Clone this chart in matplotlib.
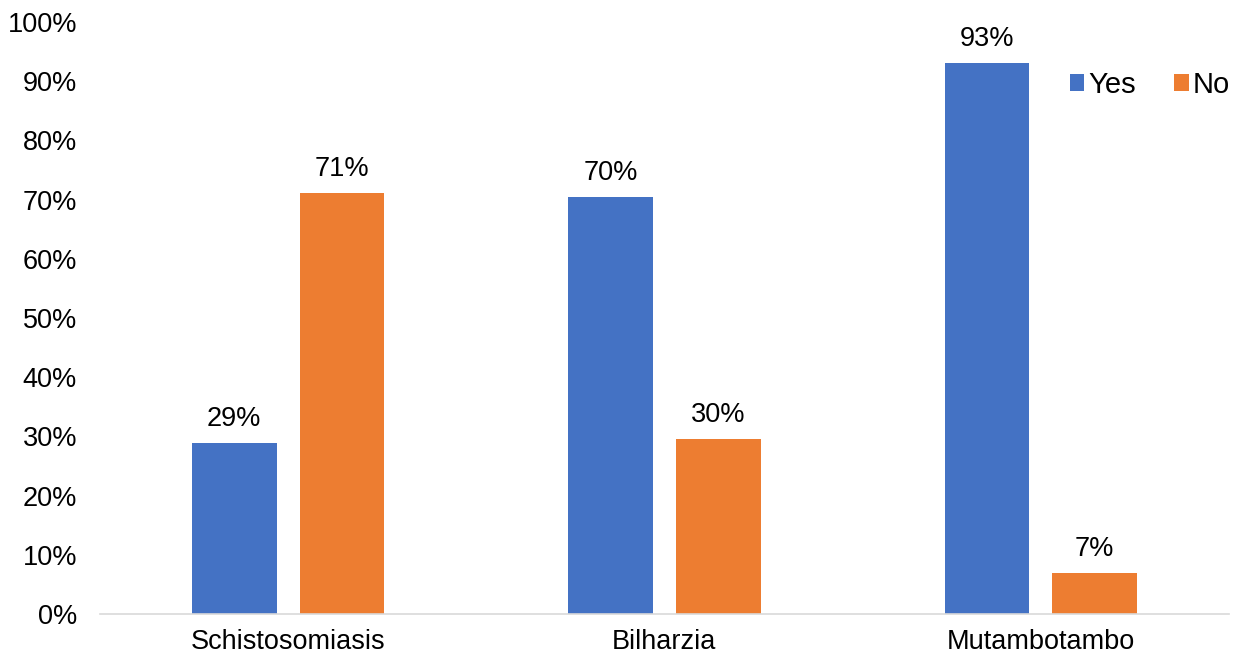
import numpy as np
import matplotlib.pyplot as plt

plt.rcParams['font.family'] = ['Liberation Sans', 'DejaVu Sans']

categories = ["Schistosomiasis", "Bilharzia", "Mutambotambo"]
yes_vals = [0.289, 0.704, 0.931]
no_vals = [0.711, 0.296, 0.069]
yticks = np.arange(0, 1.01, 0.1)

x = np.arange(len(categories))
width = 0.225
offset = 0.143
fs = 19.5

fig = plt.figure(figsize=(12.4, 6.61), dpi=100)
ax = fig.add_axes([0.0806, 0.0711, 0.9104, 0.8956])

rects1 = ax.bar(x - offset, yes_vals, width, color="#4472C4", label="Yes")
rects2 = ax.bar(x + offset, no_vals, width, color="#ED7D31", label="No")

ax.set_xlim(-0.5, 2.5)
ax.set_ylim(0, 1)
ax.set_yticks(yticks)
ax.set_yticklabels(["{:.0f}%".format(v * 100) for v in yticks], fontsize=fs)
ax.set_xticks(x)
ax.set_xticklabels(categories, fontsize=fs)
ax.tick_params(axis="both", length=0)
ax.tick_params(axis="x", pad=11)
ax.tick_params(axis="y", pad=16.5)

for side in ["top", "right", "left"]:
    ax.spines[side].set_visible(False)
ax.spines["bottom"].set_color("#D9D9D9")
ax.spines["bottom"].set_linewidth(1.2)


def autolabel(rects):
    for rect in rects:
        height = rect.get_height()
        ax.annotate(
            "{:.0f}%".format(height * 100),
            xy=(rect.get_x() + rect.get_width() / 2, height),
            xytext=(0, 8),
            textcoords="offset points",
            ha="center",
            va="bottom",
            fontsize=fs,
        )


autolabel(rects1)
autolabel(rects2)

ax.legend(
    loc="center",
    bbox_to_anchor=(1150 / 1240, 1 - 85 / 661),
    bbox_transform=fig.transFigure,
    ncol=2,
    frameon=False,
    fontsize=21,
    handlelength=0.5,
    handleheight=0.5,
    handletextpad=0.15,
    columnspacing=1.3,
)

fig.savefig("out.png", dpi=100)
